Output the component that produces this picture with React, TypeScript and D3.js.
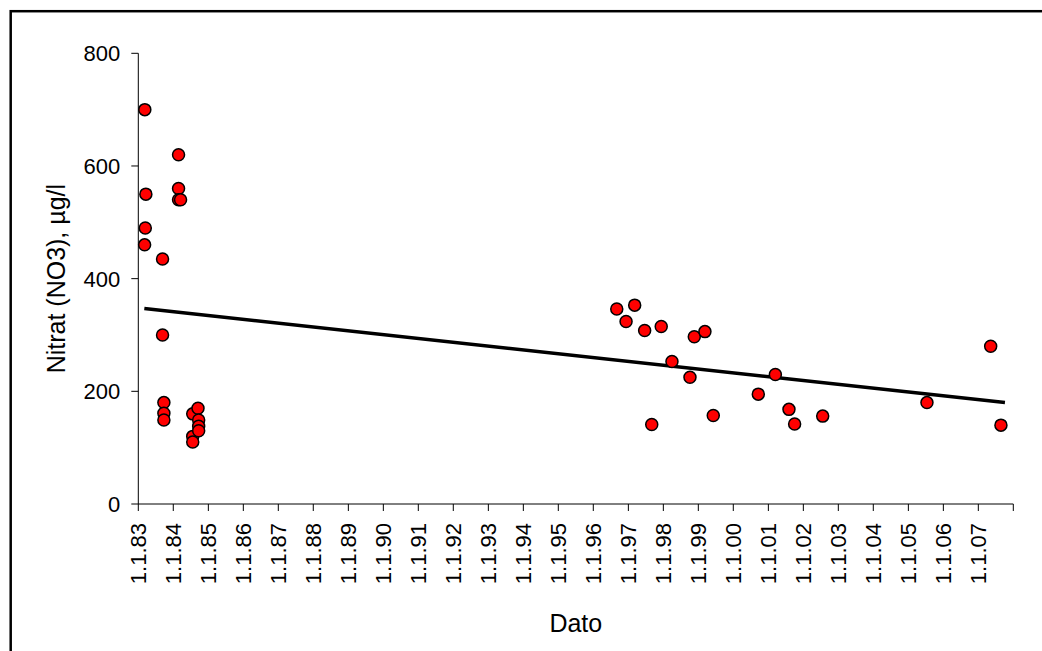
import React from "react";
import * as d3 from "d3";

// Sample dates and nitrate values (µg/l)
const sampleDates: string[] = [
  "1983-03-10", "1983-03-21", "1983-03-15", "1983-03-08",
  "1983-09-11", "1983-09-11",
  "1983-09-25", "1983-09-25", "1983-09-25",
  "1984-02-25", "1984-02-25", "1984-02-25", "1984-03-17",
  "1984-07-22", "1984-07-22", "1984-07-22",
  "1984-09-15", "1984-09-22", "1984-09-22", "1984-09-22",
  "1996-09-02", "1997-03-08", "1996-12-08", "1997-06-20", "1997-12-10",
  "1998-11-20", "1999-03-11", "1998-04-01", "1998-10-06",
  "2001-03-15", "2000-09-18", "2001-08-04", "2001-10-02", "2002-07-22",
  "1997-09-02", "1999-06-06",
  "2005-07-14", "2007-05-10", "2007-08-25",
];
const nitrateValues: number[] = [
  700, 550, 490, 460,
  435, 300,
  180, 161, 149,
  620, 560, 540, 540,
  160, 120, 110,
  170, 149, 138, 130,
  346, 353, 324, 308, 315,
  297, 306, 253, 225,
  230, 195, 168, 142, 156,
  141, 157,
  180, 280, 140,
];

// Linear trend endpoints
const trendDates: string[] = ["1983-03-05", "2007-10-06"];
const trendValues: number[] = [347, 180];

const yTicks: number[] = [0, 200, 400, 600, 800];
const xDomain: string[] = ["1983-01-01", "2008-01-01"];
const yDomain: number[] = [0, 800];

const yTitle = "Nitrat (NO3), µg/l";
const xTitle = "Dato";

const W = 1042;
const H = 651;
const left = 138.3;
const right = 1013.3;
const top = 53.3;
const bottom = 504;

export default function App() {
  const parse = d3.timeParse("%Y-%m-%d");
  const x = d3
    .scaleTime()
    .domain(xDomain.map((d) => parse(d) as Date))
    .range([left, right]);
  const y = d3.scaleLinear().domain(yDomain).range([bottom, top]);
  const fmt = d3.timeFormat("%-d.%-m.%y");
  const xTicks = x.ticks(d3.timeYear.every(1) as any);

  const points = sampleDates.map((d, i) => ({
    date: parse(d) as Date,
    v: nitrateValues[i],
  }));
  const trend = trendDates.map((d, i) => ({
    date: parse(d) as Date,
    v: trendValues[i],
  }));
  const line = d3
    .line<{ date: Date; v: number }>()
    .x((d) => x(d.date))
    .y((d) => y(d.v));

  const font = "'Liberation Sans', Arial, sans-serif";

  return (
    <svg
      width={W}
      height={H}
      style={{ position: "absolute", left: 0, top: 0, background: "#fff" }}
      fontFamily={font}
    >
      <rect x={0} y={0} width={W} height={H} fill="#fff" />
      <rect
        x={10.7}
        y={11.2}
        width={1200}
        height={800}
        fill="none"
        stroke="#000"
        strokeWidth={2.5}
      />
      {/* Y axis */}
      <line x1={left} x2={left} y1={top} y2={bottom} stroke="#000" strokeWidth={1} />
      {yTicks.map((t) => (
        <g key={"y" + t}>
          <line x1={left - 7} x2={left} y1={y(t)} y2={y(t)} stroke="#000" strokeWidth={1} />
          <text
            x={left - 18}
            y={y(t)}
            dy="0.36em"
            textAnchor="end"
            fontSize={22}
            fill="#000"
          >
            {t}
          </text>
        </g>
      ))}
      {/* X axis */}
      <line x1={left} x2={right} y1={bottom} y2={bottom} stroke="#000" strokeWidth={1} />
      {xTicks.map((t, i) => (
        <g key={"x" + i}>
          <line x1={x(t)} x2={x(t)} y1={bottom} y2={bottom + 7} stroke="#000" strokeWidth={1} />
          {i < xTicks.length - 1 && (
            <text
              transform={`translate(${x(t)},${bottom + 19}) rotate(-90)`}
              dy="0.36em"
              textAnchor="end"
              fontSize={22}
              fill="#000"
            >
              {fmt(t)}
            </text>
          )}
        </g>
      ))}
      {/* Trend line */}
      <path d={line(trend) || ""} fill="none" stroke="#000" strokeWidth={3.5} />
      {/* Points */}
      {points.map((p, i) => (
        <circle
          key={"p" + i}
          cx={x(p.date)}
          cy={y(p.v)}
          r={6}
          fill="#ff0000"
          stroke="#000"
          strokeWidth={1.5}
        />
      ))}
      {/* Titles */}
      <text
        transform={`translate(65,${(top + bottom) / 2}) rotate(-90)`}
        textAnchor="middle"
        fontSize={25}
        fill="#000"
      >
        {yTitle}
      </text>
      <text x={(left + right) / 2} y={631.7} textAnchor="middle" fontSize={25} fill="#000">
        {xTitle}
      </text>
    </svg>
  );
}
